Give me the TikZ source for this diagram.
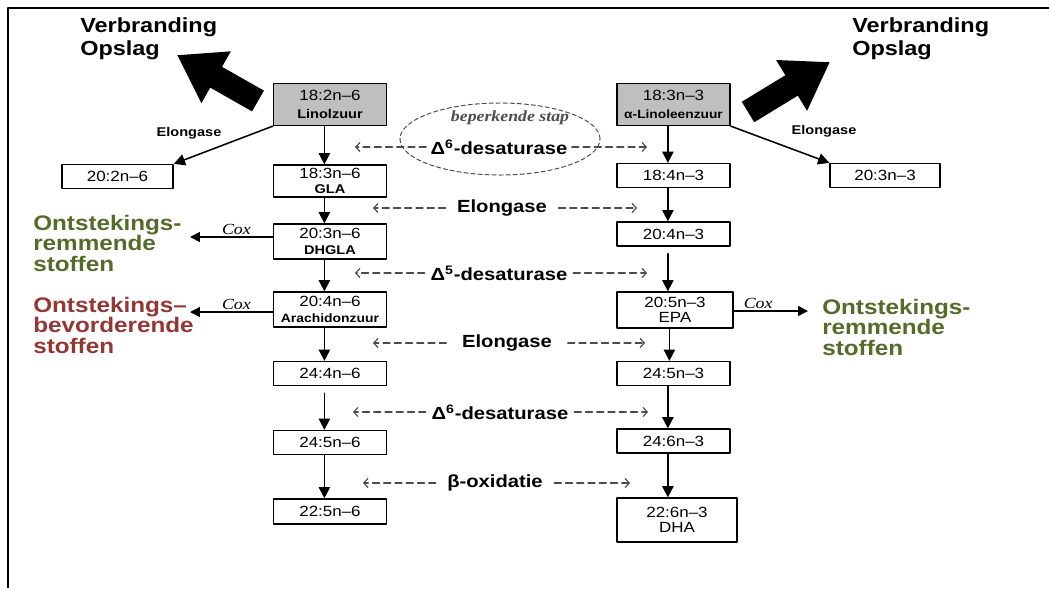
\documentclass[tikz,border=0pt]{standalone}
\usepackage{fontspec}
\setmainfont{Liberation Sans}[FakeStretch=1.15]
\newfontfamily\notefont{Liberation Serif}[FakeStretch=1.15]
\usetikzlibrary{arrows.meta}
\usetikzlibrary{positioning}
\definecolor{inhibgreen}{rgb}{0.33,0.42,0.16}
\definecolor{promred}{rgb}{0.58,0.21,0.20}
\definecolor{boxgray}{rgb}{0.75,0.75,0.75}
\definecolor{dashgray}{rgb}{0.3,0.3,0.3}
\newcommand\acidname[1]{{\bfseries\fontsize{9}{9.5}\selectfont #1}}

\begin{document}
\begin{tikzpicture}[line cap=round,line join=round,x=0.025cm,y=-0.025cm,
  acid/.style={draw,line width=0.9pt,minimum width=2.83cm,minimum height=0.6cm,inner sep=1pt,align=center,font=\fontsize{10.5}{11}\selectfont},
  start/.style={acid,fill=boxgray,minimum height=1.05cm},
  flow/.style={-{Triangle[length=8pt,width=8pt]},line width=1.2pt},
  down/.style={flow,transform canvas={xshift=-4pt}},
  bigarrow/.style={line cap=butt,line width=17pt,-{Triangle[length=32pt,width=40pt]}},
  burn/.style={font=\bfseries\fontsize{14.5}{16.5}\selectfont,align=left,inner sep=0pt},
  inhibit/.style={font=\bfseries\fontsize{15}{14.6}\selectfont,align=left,inner sep=0pt,text=inhibgreen},
  promote/.style={inhibit,text=promred},
  enzyme/.style={font=\bfseries\fontsize{12.5}{14}\selectfont,inner sep=0pt},
  enz/.style={dashgray,line width=0.8pt,dash pattern=on 5pt off 3pt,-{Straight Barb[length=3pt,width=6.5pt]}},
  sidelabel/.style={font=\bfseries\fontsize{9}{10}\selectfont,inner sep=0pt},
  coxlabel/.style={font=\notefont\itshape\fontsize{11}{12}\selectfont,inner sep=1pt},
  coxline/.style={-{Triangle[length=7pt,width=7pt]},line width=1.1pt},
  limit/.style={dashgray,line width=0.7pt,dash pattern=on 3pt off 2pt}]
\useasboundingbox (0,0) rectangle (1049,588);
\draw[line width=1.7pt,line cap=butt] (8,588) -- (8,8) -- (1049,8);

% omega-6 column
\node[start] (lin) at (330,104.5) {18:2n–6\\[2pt]\acidname{Linolzuur}};
\node[acid,minimum height=0.8cm] (gla) at (330,181) {18:3n–6\\\acidname{GLA}};
\node[acid,minimum height=0.875cm] (dhgla) at (330,241.5) {20:3n–6\\\acidname{DHGLA}};
\node[acid,minimum height=0.875cm] (ara) at (330,309.5) {20:4n–6\\{\bfseries\fontsize{8.6}{9}\selectfont Arachidonzuur}};
\node[acid] (l244) at (330,373.5) {24:4n–6};
\node[acid] (l245) at (330,442.5) {24:5n–6};
\node[acid,minimum height=0.63cm] (l225) at (330,511.5) {22:5n–6};
\node[acid,minimum width=2.78cm] (e202) at (117.5,176.5) {20:2n–6};

% omega-3 column
\node[start] (aln) at (673.5,104.5) {18:3n–3\\[2pt]{\bfseries\fontsize{8.5}{9}\selectfont α-Linoleenzuur}};
\node[acid] (r184) at (673.5,175.5) {18:4n–3};
\node[acid] (r204) at (673.5,234) {20:4n–3};
\node[acid,minimum width=2.9cm,minimum height=0.9cm] (epa) at (675,310) {20:5n–3\\EPA};
\node[acid] (r245) at (673.5,373.5) {24:5n–3};
\node[acid] (r246) at (673.5,441) {24:6n–3};
\node[acid,minimum width=3cm,minimum height=1.1cm] (dha) at (677,520) {22:6n–3\\DHA};
\node[acid,minimum width=2.75cm] (e203) at (885,175.5) {20:3n–3};

\foreach \a/\b in {lin/gla,gla/dhgla,dhgla/ara,ara/l244,l245/l225,aln/r184,r184/r204,epa/r245,r245/r246,r246/dha}
  \draw[down] (\a.south) -- (\a.south |- \b.north);
\draw[down,shorten <=5pt] (l244.south) -- (l244.south |- l245.north);
\draw[down,shorten <=5pt] (r204.south) -- (r204.south |- epa.north);

% elongase side branches
\draw[flow,line width=1.1pt] (lin.south west) -- (e202.north east);
\draw[flow,line width=1.1pt] (aln.south east) -- (e203.north west);
\node[sidelabel] (eloL) at (189,133) {Elongase};
\node[sidelabel] (eloR) at (824,131) {Elongase};

% burning / storage
\node[burn,anchor=west] (burnL) at (80,38.5) {Verbranding\\Opslag};
\node[burn,anchor=west] (burnR) at (852,39) {Verbranding\\Opslag};
\coordinate (tailL) at (258,101);
\coordinate (tipL) at (177,55);
\coordinate (tailR) at (748,112);
\coordinate (tipR) at (830,62);
\draw[bigarrow] (tailL) -- (tipL);
\draw[bigarrow] (tailR) -- (tipR);

% cox products
\node[inhibit,anchor=west] (antiL) at (33,243) {Ontstekings-\\remmende\\stoffen};
\node[promote,anchor=west] (proL) at (33,325) {Ontstekings–\\bevorderende\\stoffen};
\node[inhibit,anchor=west] (antiR) at (822,327) {Ontstekings-\\remmende\\stoffen};
\coordinate (coxL1) at (190,237);
\coordinate (coxL2) at (190,312);
\coordinate (coxR) at (808,311);
\draw[coxline] (dhgla.west |- coxL1) -- (coxL1) node[coxlabel,above,pos=0.44] {Cox};
\draw[coxline] (ara.west |- coxL2) -- (coxL2) node[coxlabel,above,pos=0.44] {Cox};
\draw[coxline] (epa.east |- coxR) -- (coxR) node[coxlabel,above,pos=0.33] {Cox};

% enzymes
\draw[limit] (500,139) ellipse [x radius=2.5cm, y radius=0.9cm];
\node[font=\notefont\bfseries\itshape\fontsize{11}{12}\selectfont,text=dashgray] (beperk) at (510,118) {beperkende stap};
\node[enzyme] (dsat6a) at (499,147) {Δ\textsuperscript{6}-desaturase};
\node[enzyme] (elo1) at (502,208) {Elongase};
\node[enzyme] (dsat5) at (499,273) {Δ\textsuperscript{5}-desaturase};
\node[enzyme] (elo2) at (507,343) {Elongase};
\node[enzyme] (dsat6b) at (500,412) {Δ\textsuperscript{6}-desaturase};
\node[enzyme] (betaox) at (495,483) {β-oxidatie};
\foreach \n/\y/\xl/\xr/\g in {dsat6a/147/355/647/3pt,elo1/208/373/637/8pt,dsat5/273/355/647/4pt,elo2/343/373/645/11pt,dsat6b/412/353/648/4pt,betaox/483/363/630/8pt}{
  \coordinate (\n-l) at (\xl,\y);
  \coordinate (\n-r) at (\xr,\y);
  \draw[enz,shorten <=\g] (\n.west) -- (\n-l);
  \draw[enz,shorten <=\g] (\n.east) -- (\n-r);
}
\end{tikzpicture}
\end{document}
